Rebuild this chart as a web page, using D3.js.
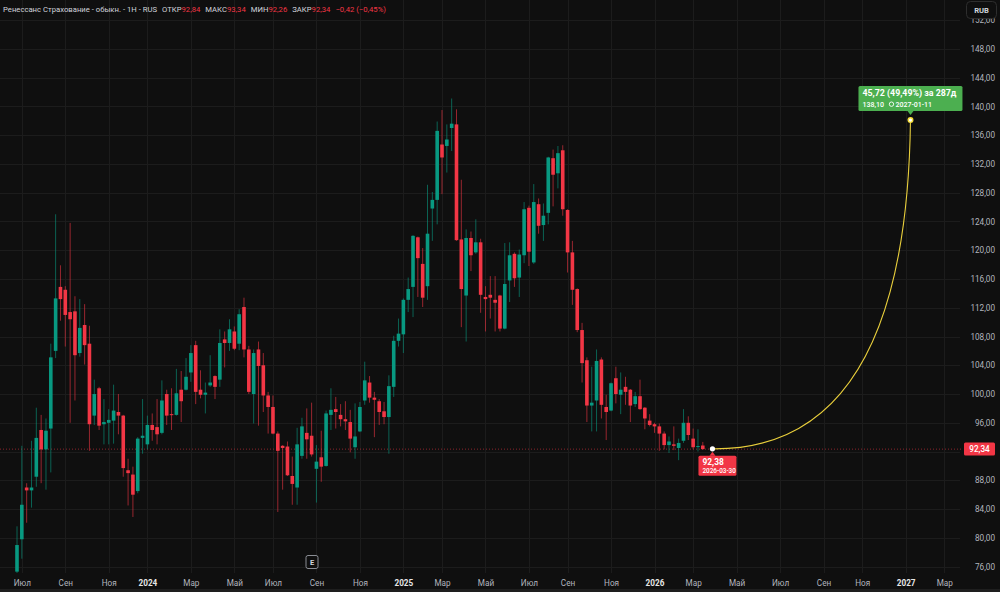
<!DOCTYPE html>
<html>
<head>
<meta charset="utf-8">
<script src="https://cdn.jsdelivr.net/npm/d3@7"></script>
<style>
  body { margin: 0; background: #0f0f0f; }
  svg { display: block; font-family: Roboto, "Noto Sans", sans-serif; }
</style>
</head>
<body>
<div id="chart"></div>
<script>
const width = 1000;
const height = 592;

// weekly candles, first bar is the week of 2023-06-26
const firstWeek = "2023-06-26";
const open = [75.3,79.8,87.0,86.6,88.5,95.0,92.3,95.2,106.0,114.9,114.5,111.4,111.5,105.7,109.6,107.0,97.0,100.8,95.8,96.0,
  96.3,97.5,97.0,89.4,88.8,86.5,93.9,93.0,95.7,95.4,94.6,100.0,97.2,97.1,100.6,100.6,103.0,106.8,100.6,99.9,
  101.2,102.5,102.0,107.6,107.1,108.7,107.0,112.1,106.2,100.0,106.2,104.0,99.8,98.2,94.5,92.8,92.7,88.6,87.0,91.4,
  94.6,94.2,89.6,91.2,90.0,97.1,97.9,97.1,96.5,96.1,92.6,94.8,99.1,101.6,99.5,99.0,97.6,96.8,101.0,107.4,
  108.3,113.1,114.9,121.8,118.1,115.0,125.8,127.0,134.7,134.5,137.0,137.5,121.5,113.7,121.7,119.7,121.1,113.5,113.8,113.1,
  113.7,109.1,115.8,119.5,116.2,119.3,125.9,118.3,126.4,123.5,125.2,132.8,130.7,133.9,125.6,119.7,114.6,108.9,104.7,98.4,
  99.1,104.8,98.2,97.7,102.2,99.9,101.0,100.6,98.6,99.7,98.1,96.3,95.8,95.5,94.5,92.9,93.0,92.5,93.5,96.0,
  93.8,92.7,92.84];
const high = [81.6,92.8,87.6,93.5,98.1,97.1,96.6,107.0,125.0,117.9,115.0,123.8,113.6,113.2,112.5,109.5,102.0,101.0,99.3,97.9,
  101.3,100.0,97.1,91.0,89.9,94.0,99.3,97.0,97.3,99.3,101.9,100.6,100.8,103.5,103.2,105.0,106.8,107.4,103.3,101.6,
  105.4,102.6,109.0,108.7,110.4,109.4,111.8,113.4,106.7,106.2,107.3,105.7,100.3,99.8,94.8,92.9,93.4,91.3,95.3,96.7,
  98.0,98.8,92.9,94.9,97.7,100.8,99.6,98.6,99.0,97.8,98.7,98.9,104.5,102.5,100.3,99.3,98.9,102.6,108.1,110.5,
  113.3,116.2,122.1,121.9,120.3,129.1,128.1,137.9,139.5,137.5,141.1,139.6,129.8,122.9,122.6,124.3,121.6,115.0,116.4,116.4,
  113.8,121.0,121.1,119.7,120.1,126.7,126.2,129.2,127.2,126.5,133.0,134.0,134.5,134.6,125.7,121.3,114.7,109.9,105.1,103.8,
  106.2,105.1,99.9,101.6,103.8,103.0,102.4,100.7,100.3,102.0,98.2,97.2,96.0,95.9,94.8,94.1,95.5,93.8,97.9,96.9,
  95.2,95.1,93.34];
const low = [75.0,77.1,82.1,84.2,87.1,87.6,86.7,89.1,105.0,110.2,106.6,96.0,99.1,105.2,104.1,92.1,95.7,95.0,93.0,93.0,
  93.1,94.4,88.5,84.5,82.9,86.2,91.7,92.3,93.5,93.0,94.4,95.7,95.0,97.0,96.1,100.5,101.7,98.6,99.4,97.3,
  101.0,99.3,101.0,103.7,106.0,106.1,106.1,105.1,100.0,95.9,95.6,97.5,94.5,94.4,83.6,86.7,88.6,84.6,84.6,91.0,
  91.0,91.3,84.9,87.8,89.9,95.0,95.2,95.5,95.0,91.9,91.0,94.7,98.5,98.8,94.0,95.7,95.8,91.7,99.6,106.6,
  105.7,111.4,110.7,113.5,112.1,113.1,121.3,123.6,127.8,130.8,133.8,121.3,109.3,107.3,117.1,119.5,111.3,108.7,110.5,108.7,
  108.7,109.0,112.8,114.9,113.5,118.2,117.8,118.1,122.3,121.3,123.6,126.1,128.6,124.8,116.9,112.4,108.6,101.6,96.1,94.8,
  94.8,96.6,93.6,97.6,98.7,97.2,98.5,96.1,98.2,97.8,95.1,95.5,94.6,92.1,92.3,91.8,92.2,90.8,93.2,93.6,
  92.3,92.0,92.26];
const close = [79.0,84.6,86.6,87.0,93.9,92.3,94.9,105.1,113.3,113.2,111.0,110.4,105.4,109.2,106.8,95.8,100.0,95.6,96.1,96.4,
  97.7,97.0,89.7,89.0,86.0,93.8,94.2,95.7,95.0,94.4,99.1,97.0,97.1,100.1,99.0,102.4,105.7,100.3,99.9,100.2,
  101.6,101.0,107.1,107.1,109.0,106.3,111.1,106.2,100.3,105.7,103.9,99.8,98.2,94.5,92.1,92.5,88.7,87.5,93.0,95.5,
  93.7,91.6,90.6,89.9,97.3,97.8,97.5,96.5,96.2,93.8,94.1,98.2,101.9,99.5,99.2,97.5,96.8,101.1,107.4,108.4,
  113.1,114.6,122.0,118.9,113.4,122.3,127.0,136.6,132.9,135.4,137.6,121.4,114.6,121.7,119.3,121.1,113.8,113.2,113.4,112.7,
  109.1,115.3,119.3,116.1,119.4,125.7,119.8,126.7,123.4,124.8,132.9,130.5,133.5,125.7,119.7,114.5,108.9,104.3,98.4,98.8,
  104.6,98.5,97.5,101.5,100.0,100.6,100.3,98.4,99.7,97.9,96.6,95.7,95.5,94.5,92.9,93.4,92.8,93.2,96.0,94.3,
  92.6,92.76,92.34];

const priceTicks = d3.range(76, 153, 4);
const monthNames = ["", "", "Мар", "", "Май", "", "Июл", "", "Сен", "", "Ноя", ""];

// legend line: label / value pairs
const header = [
  { t: "Ренессанс Страхование - обыкн. - 1Н - RUS", c: "#d1d4dc", gap: 0 },
  { t: "ОТКР", c: "#d1d4dc", gap: 5 }, { t: "92,84", c: "#f23645", gap: 0 },
  { t: "МАКС", c: "#d1d4dc", gap: 5 }, { t: "93,34", c: "#f23645", gap: 0 },
  { t: "МИН", c: "#d1d4dc", gap: 5 }, { t: "92,26", c: "#f23645", gap: 0 },
  { t: "ЗАКР", c: "#d1d4dc", gap: 5 }, { t: "92,34", c: "#f23645", gap: 0 },
  { t: "−0,42 (−0,45%)", c: "#f23645", gap: 5 }
];

// forecast drawing
const fcStart = { date: "2026-03-30", price: 92.38 };
const fcEnd = { date: "2027-01-11", price: 138.10 };
const fcText = "45,72 (49,49%) за 287д";
const lastPrice = 92.34;

const up = "#089981";
const down = "#f23645";
const parse = d3.utcParse("%Y-%m-%d");
const fmt = (v) => d3.format(".2f")(v).replace(".", ",");

const start = parse(firstWeek);
const dates = d3.utcMonday.range(start, d3.utcWeek.offset(start, open.length));
const candles = dates.map((d, i) => ({
  date: d, o: open[i], h: high[i], l: low[i], c: close[i]
}));

const plotRight = 960;
const plotBottom = 573;

const x = d3.scaleUtc()
  .domain([start, dates[dates.length - 1]])
  .range([17, 702.8]);
const y = d3.scaleLinear().domain([76, 148]).range([566.6, 48.9]);

const svg = d3.select("#chart").append("svg")
  .attr("width", width)
  .attr("height", height);

svg.append("rect").attr("width", width).attr("height", height).attr("fill", "#0f0f0f");

svg.append("defs").append("clipPath").attr("id", "plot")
  .append("rect").attr("width", plotRight).attr("height", plotBottom);

// month ticks sit on the first weekly bar of every second month
const monthTicks = d3.utcMonth.every(2)
  .range(new Date(Date.UTC(2023, 6, 1)), new Date(Date.UTC(2027, 3, 1)))
  .map((m) => ({ m, d: d3.utcMonday.ceil(m) }));

// grid
const grid = svg.append("g").attr("stroke", "#1c1c1c").attr("stroke-width", 1);
grid.selectAll(".hg").data(priceTicks).join("line")
  .attr("x1", 0).attr("x2", plotRight)
  .attr("y1", (d) => Math.round(y(d)) + 0.5).attr("y2", (d) => Math.round(y(d)) + 0.5);
grid.selectAll(".vg").data(monthTicks).join("line")
  .attr("x1", (d) => Math.round(x(d.d)) + 0.5).attr("x2", (d) => Math.round(x(d.d)) + 0.5)
  .attr("y1", 0).attr("y2", plotBottom);

// last price line
svg.append("line")
  .attr("x1", 0).attr("x2", plotRight + 3)
  .attr("y1", y(lastPrice)).attr("y2", y(lastPrice))
  .attr("stroke", down).attr("stroke-opacity", 0.55)
  .attr("stroke-dasharray", "1,2");

// candles
const cg = svg.append("g").attr("clip-path", "url(#plot)");
const candle = cg.selectAll("g").data(candles).join("g")
  .attr("transform", (d) => `translate(${x(d.date)},0)`);

candle.append("line")
  .attr("y1", (d) => y(d.h)).attr("y2", (d) => y(d.l))
  .attr("stroke", (d) => (d.c >= d.o ? up : down))
  .attr("stroke-opacity", 0.6)
  .attr("stroke-width", 1);

candle.append("rect")
  .attr("x", -1.8).attr("width", 3.6)
  .attr("y", (d) => y(Math.max(d.o, d.c)))
  .attr("height", (d) => Math.max(1, Math.abs(y(d.o) - y(d.c))))
  .attr("fill", (d) => (d.c >= d.o ? up : down));

// forecast curve
const x1 = x(parse(fcStart.date)), y1 = y(fcStart.price);
const x2 = x(parse(fcEnd.date)), y2 = y(fcEnd.price);
const p = d3.path();
p.moveTo(x1, y1);
p.quadraticCurveTo(x2 - 4, y1 + 2, x2, y2);
svg.append("path").attr("d", p.toString())
  .attr("fill", "none").attr("stroke", "#e9cf3c").attr("stroke-width", 1.1);

svg.append("circle").attr("cx", x1).attr("cy", y1).attr("r", 2.6).attr("fill", "#fff");
svg.append("circle").attr("cx", x2).attr("cy", y2).attr("r", 3).attr("fill", "#f5de3a");
svg.append("circle").attr("cx", x2).attr("cy", y2).attr("r", 1.6).attr("fill", "#fff");

// forecast label (green)
const fg = svg.append("g").attr("transform", `translate(${x2},${y2 - 4})`);
fg.append("path").attr("d", "M-3,-5 L0,-1 L3,-5 Z").attr("fill", "#4caf50");
fg.append("rect").attr("x", -52).attr("y", -30).attr("width", 104).attr("height", 25)
  .attr("rx", 1.5).attr("fill", "#4caf50");
fg.append("text").attr("x", -48).attr("y", -20.5)
  .attr("fill", "#fff").attr("font-size", 8.8).attr("font-weight", 700).text(fcText);
fg.append("text").attr("x", -48).attr("y", -9.5)
  .attr("fill", "#fff").attr("font-size", 7).attr("font-weight", 500)
  .text("138,10");
fg.append("circle").attr("cx", -19).attr("cy", -11.9).attr("r", 2.2)
  .attr("fill", "none").attr("stroke", "#fff").attr("stroke-width", 0.9);
fg.append("text").attr("x", -15).attr("y", -9.5)
  .attr("fill", "#fff").attr("font-size", 7).attr("font-weight", 500)
  .text(fcEnd.date);

// start label (red)
const sg = svg.append("g").attr("transform", `translate(${x1},${y1})`);
sg.append("path").attr("d", "M-3,7 L0,3 L3,7 Z").attr("fill", down);
sg.append("rect").attr("x", -14).attr("y", 7).attr("width", 38).attr("height", 20)
  .attr("rx", 1.5).attr("fill", down);
sg.append("text").attr("x", -10).attr("y", 16)
  .attr("fill", "#fff").attr("font-size", 8.4).attr("font-weight", 700).text(fmt(fcStart.price));
sg.append("text").attr("x", -10).attr("y", 24.5)
  .attr("fill", "#fff").attr("font-size", 6.4).attr("font-weight", 500).text(fcStart.date);

// price axis (the label under the last-price tag is hidden, as on the chart)
const yAxis = svg.append("g")
  .attr("transform", `translate(995,0)`)
  .call(d3.axisLeft(y)
    .tickValues(priceTicks.filter((v) => Math.abs(y(v) - y(lastPrice)) > 9))
    .tickSize(0).tickPadding(0).tickFormat(fmt));
yAxis.select(".domain").remove();
yAxis.selectAll("text").attr("fill", "#b2b5be").attr("font-size", 8.2)
  .attr("font-family", "Roboto, 'Noto Sans', sans-serif");

// last price tag
svg.append("rect").attr("x", 964).attr("y", y(lastPrice) - 6.5).attr("width", 31).attr("height", 13)
  .attr("rx", 1.5).attr("fill", down);
svg.append("text").attr("x", 979.5).attr("y", y(lastPrice) + 3)
  .attr("text-anchor", "middle").attr("fill", "#fff").attr("font-size", 8.2).attr("font-weight", 500)
  .text(fmt(lastPrice));

// time axis
const xAxis = svg.append("g")
  .attr("transform", `translate(0,${plotBottom})`)
  .call(d3.axisBottom(x).tickValues(monthTicks.map((t) => t.d)).tickSize(0).tickPadding(7)
    .tickFormat((d, i) => {
      const m = monthTicks[i].m;
      return m.getUTCMonth() === 0 ? String(m.getUTCFullYear()) : monthNames[m.getUTCMonth()];
    }));
xAxis.select(".domain").remove();
xAxis.selectAll("text")
  .attr("font-size", 8.2)
  .attr("font-family", "Roboto, 'Noto Sans', sans-serif")
  .attr("fill", (d, i) => (monthTicks[i].m.getUTCMonth() === 0 ? "#e6e6e6" : "#b2b5be"))
  .attr("font-weight", (d, i) => (monthTicks[i].m.getUTCMonth() === 0 ? 700 : 400));

svg.append("rect").attr("x", 0).attr("y", 589).attr("width", width).attr("height", 3).attr("fill", "#1e1e1e");

// earnings marker
const eg = svg.append("g").attr("transform", "translate(312,562)");
eg.append("rect").attr("x", -6).attr("y", -6.5).attr("width", 12).attr("height", 13).attr("rx", 2)
  .attr("fill", "#0f0f0f").attr("stroke", "#8a8d94").attr("stroke-width", 1);
eg.append("text").attr("y", 3).attr("text-anchor", "middle").attr("fill", "#d1d4dc")
  .attr("font-size", 7.5).attr("font-weight", 700).text("E");

// currency button
svg.append("rect").attr("x", 966.5).attr("y", 1.5).attr("width", 30).attr("height", 17).attr("rx", 4)
  .attr("fill", "#0f0f0f").attr("stroke", "#2e2e2e");
svg.append("text").attr("x", 981.5).attr("y", 13).attr("text-anchor", "middle")
  .attr("fill", "#d1d4dc").attr("font-size", 7.6).attr("font-weight", 700).text("RUB");

// header legend
const ht = svg.append("text").attr("x", 3).attr("y", 12).attr("font-size", 7.7);
header.forEach((h) => {
  ht.append("tspan").attr("fill", h.c).attr("dx", h.gap).text(h.t);
});
</script>
</body>
</html>
